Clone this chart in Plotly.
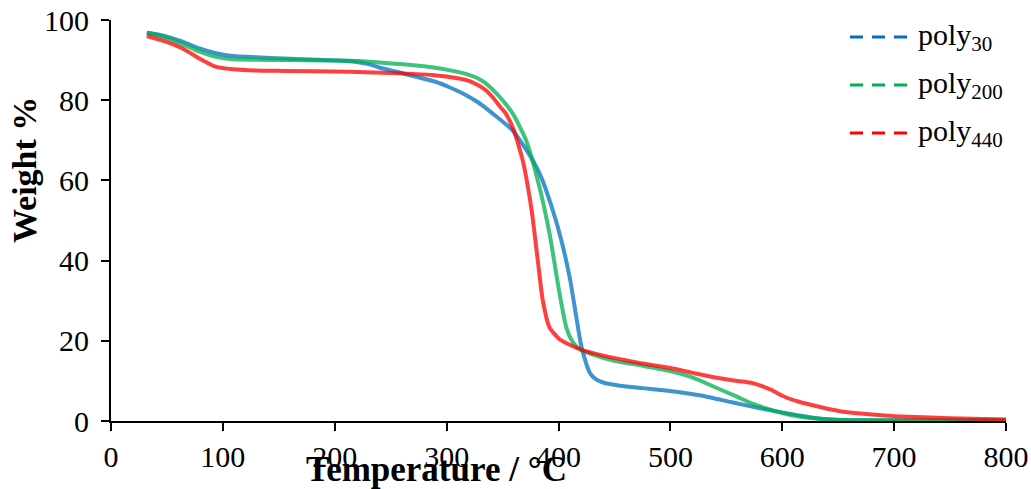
import plotly.graph_objects as go

# ---- data ----
t_poly30 = [32, 45, 64, 79, 94, 109, 130, 154, 190, 213, 230, 243, 258, 273, 290, 302, 315, 329,
            341, 359, 368, 377, 385, 392, 401, 410, 416, 420, 424, 428, 433, 440, 455, 475, 500,
            526, 556, 580, 600, 615, 631, 645, 660, 700, 750, 800]
w_poly30 = [96.8, 96.2, 94.6, 92.9, 91.7, 91.0, 90.7, 90.4, 90.0, 89.7, 89.0, 87.9, 86.9, 85.8,
            84.6, 83.3, 81.6, 79.3, 76.7, 72.5, 69.0, 65.0, 60.5, 55.0, 46.7, 35.8, 25.8, 19.2,
            15.0, 12.0, 10.5, 9.6, 8.8, 8.2, 7.5, 6.4, 4.6, 3.2, 2.1, 1.4, 0.7, 0.35, 0.2, 0.15,
            0.15, 0.1]

t_poly200 = [32, 45, 64, 79, 94, 109, 130, 154, 190, 222, 258, 287, 311, 320, 329, 335, 341, 350,
             359, 371, 383, 392, 401, 407, 412, 416, 420, 430, 450, 475, 499, 520, 541, 560, 571,
             585, 600, 615, 630, 645, 660, 700, 750, 800]
w_poly200 = [96.8, 96.0, 94.0, 92.1, 90.8, 90.2, 90.1, 90.0, 89.9, 89.8, 89.0, 88.2, 87.0, 86.3,
             85.3, 84.2, 82.7, 80.0, 76.7, 70.0, 58.3, 46.7, 31.7, 23.3, 20.0, 18.6, 17.8, 16.6,
             15.0, 13.8, 12.5, 10.8, 8.3, 6.0, 4.6, 3.2, 2.0, 1.1, 0.6, 0.3, 0.2, 0.2, 0.2, 0.2]

t_poly440 = [32, 49, 64, 79, 94, 109, 130, 154, 213, 258, 287, 311, 320, 329, 335, 341, 348, 352,
             359, 368, 376, 381.5, 386, 392, 401, 410, 420, 440, 470, 500, 520, 541, 560, 571, 580,
             590, 600, 615, 630, 645, 660, 680, 700, 750, 800]
w_poly440 = [96.0, 94.6, 92.9, 90.4, 88.3, 87.7, 87.4, 87.3, 87.1, 86.7, 86.3, 85.4, 84.8, 83.6,
             82.5, 80.8, 78.3, 77.0, 73.3, 65.0, 52.5, 40.0, 30.0, 23.3, 20.4, 19.0, 17.8, 16.3,
             14.6, 13.2, 12.0, 10.8, 10.0, 9.6, 8.9, 7.8, 6.3, 4.8, 3.75, 2.8, 2.1, 1.6, 1.2, 0.7,
             0.4]

series_names = ["poly<sub>30</sub>", "poly<sub>200</sub>", "poly<sub>440</sub>"]
series_colors = ["#0070C0", "#00B050", "#FF0000"]
x_ticks = [0, 100, 200, 300, 400, 500, 600, 700, 800]
y_ticks = [0, 20, 40, 60, 80, 100]
x_title = "Temperature / °C"
y_title = "Weight %"

series = [(t_poly30, w_poly30), (t_poly200, w_poly200), (t_poly440, w_poly440)]

fig = go.Figure()
for (t, w), name, col in zip(series, series_names, series_colors):
    fig.add_trace(go.Scatter(x=t, y=w, mode="lines", name=name, showlegend=False,
                             line=dict(color=col, width=4, shape="spline", smoothing=0.6),
                             opacity=0.75, hoverinfo="skip"))

# legend drawn in the upper-right corner with dashed keys (as in the reference)
shapes = []
annotations = []
legend_rows = [0.9576, 0.8379, 0.7182]
for name, col, yy in zip(series_names, series_colors, legend_rows):
    shapes.append(dict(type="line", xref="paper", yref="paper", x0=0.8257, x1=0.8894,
                       y0=yy, y1=yy, line=dict(color=col, width=3, dash="13px,9px")))
    annotations.append(dict(text=name, xref="paper", yref="paper", x=0.8994, y=yy,
                            xanchor="left", yanchor="middle", showarrow=False,
                            font=dict(family="Liberation Serif", size=30)))

annotations += [
    dict(text=f"<b>{x_title}</b>", xref="paper", yref="paper", x=0.364, y=-0.122,
         xanchor="center", yanchor="middle", showarrow=False,
         font=dict(family="Liberation Serif", size=35)),
    dict(text=f"<b>{y_title}</b>", xref="paper", yref="paper", x=-0.096, y=0.626,
         xanchor="center", yanchor="middle", showarrow=False, textangle=-90,
         font=dict(family="Liberation Serif", size=34)),
]

fig.update_layout(
    width=1031, height=489,
    margin=dict(l=111, r=25, t=20, b=68),
    paper_bgcolor="white", plot_bgcolor="white",
    font=dict(family="Liberation Serif", size=26, color="black"),
    showlegend=False,
    xaxis=dict(range=[0, 800], tickvals=x_ticks, showgrid=False, zeroline=False,
               showline=True, linecolor="black", linewidth=2, automargin=False,
               ticks="outside", ticklen=8, tickwidth=2, tickcolor="black",
               tickfont=dict(family="Liberation Serif", size=30)),
    yaxis=dict(range=[0, 100], tickvals=y_ticks, showgrid=False, zeroline=False,
               showline=True, linecolor="black", linewidth=2, automargin=False,
               ticks="outside", ticklen=8, tickwidth=2, tickcolor="black",
               tickfont=dict(family="Liberation Serif", size=30),
               ticklabelstandoff=6),
    shapes=shapes,
    annotations=annotations,
)

fig.write_html("out.html")
